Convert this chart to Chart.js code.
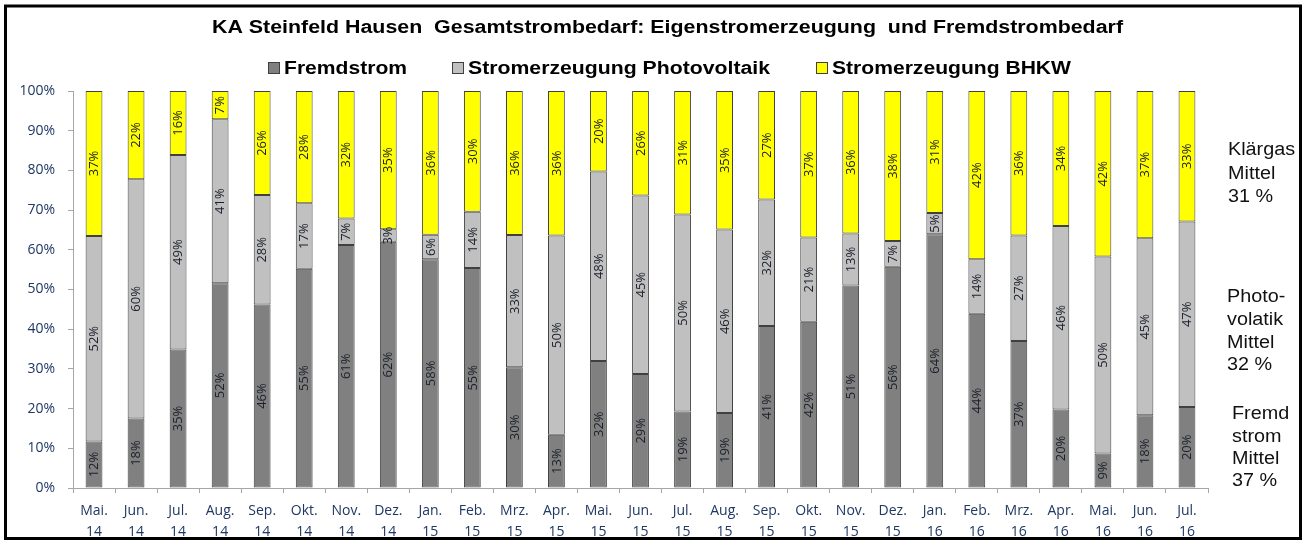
<!DOCTYPE html>
<html>
<head>
<meta charset="utf-8">
<script src="https://cdn.jsdelivr.net/npm/chart.js@4.4.1/dist/chart.umd.min.js"></script>
<style>
  html, body { margin: 0; padding: 0; background: #ffffff; }
  #wrap { width: 1304px; height: 541px; position: relative; }
</style>
</head>
<body>
<div id="wrap"><canvas id="c" width="1304" height="541"></canvas></div>
<script>
// ---- data ----
const months = ['Mai.','Jun.','Jul.','Aug.','Sep.','Okt.','Nov.','Dez.','Jan.','Feb.','Mrz.','Apr.','Mai.','Jun.','Jul.','Aug.','Sep.','Okt.','Nov.','Dez.','Jan.','Feb.','Mrz.','Apr.','Mai.','Jun.','Jul.'];
const years  = ['14','14','14','14','14','14','14','14','15','15','15','15','15','15','15','15','15','15','15','15','16','16','16','16','16','16','16'];
const fremdstrom   = [11.7,17.5,34.9,51.6,46.2,55.2,61.2,62.0,57.6,55.4,30.4,13.4,32.0,28.7,19.3,18.9,40.8,41.9,51.0,55.7,63.9,43.9,37.0,19.8,8.7,18.3,20.4];
const photovoltaik = [51.8,60.3,49.0,41.3,27.6,16.5,6.7,3.2,6.2,14.2,33.3,50.2,47.7,45.0,49.6,46.2,31.9,21.2,13.1,6.5,5.4,13.7,26.6,46.2,49.6,44.6,46.7];
const bhkw         = [36.5,22.2,16.1,7.1,26.2,28.3,32.1,34.8,36.2,30.4,36.3,36.4,20.3,26.3,31.1,34.9,27.3,36.9,35.9,37.8,30.7,42.4,36.4,34.0,41.7,37.1,32.9];
const yTicks = [0,10,20,30,40,50,60,70,80,90,100];
const seriesNames = ['Fremdstrom','Stromerzeugung Photovoltaik','Stromerzeugung BHKW'];
const titleText = 'KA Steinfeld Hausen  Gesamtstrombedarf: Eigenstromerzeugung  und Fremdstrombedarf';
const notes = [
  {x:1228, lines:['Klärgas','Mittel','31 %'], base:[155,178.5,201.5]},
  {x:1227, lines:['Photo-','volatik','Mittel','32 %'], base:[302,325,347.5,369.5]},
  {x:1232, lines:['Fremd','strom','Mittel','37 %'], base:[418.5,441.5,464,486]}
];

const labels = months.map((m,i) => [m, years[i]]);
const colors = ['#808080','#c0c0c0','#ffff00'];
const seriesData = [fremdstrom, photovoltaik, bhkw];

function drawFit(ctx, text, x, baseline, font, width, align) {
  ctx.save();
  ctx.font = font;
  const w = ctx.measureText(text).width;
  const sx = width ? width / w : 1;
  ctx.textAlign = 'left';
  ctx.textBaseline = 'alphabetic';
  let left = x;
  if (align === 'center') left = x - (w * sx) / 2;
  ctx.translate(left, baseline);
  ctx.scale(sx, 1);
  ctx.fillText(text, 0, 0);
  ctx.restore();
}

const decorPlugin = {
  id: 'decor',
  afterDatasetsDraw(chart) {
    const ctx = chart.ctx;
    // segment value labels
    ctx.save();
    ctx.font = '13px "Open Sans"';
    ctx.fillStyle = '#1a1f2a';
    ctx.textAlign = 'center';
    ctx.textBaseline = 'middle';
    chart.data.datasets.forEach((ds, di) => {
      const meta = chart.getDatasetMeta(di);
      meta.data.forEach((el, i) => {
        const p = el.getProps(['x','y','base'], true);
        const cy = (p.y + p.base) / 2;
        ctx.save();
        ctx.translate(p.x + 0.5, cy);
        ctx.rotate(-Math.PI / 2);
        ctx.fillText(Math.round(ds.data[i]) + '%', 0, 0);
        ctx.restore();
      });
    });
    ctx.restore();
  },
  afterDraw(chart) {
    const ctx = chart.ctx;
    ctx.save();
    ctx.fillStyle = '#000000';
    // title
    drawFit(ctx, titleText, 667.5, 33, 'bold 18px "Liberation Sans"', 911, 'center');
    // legend
    const items = [
      {box:268, tx:284, w:123},
      {box:452, tx:468, w:302},
      {box:816, tx:832, w:239}
    ];
    items.forEach((it, k) => {
      ctx.fillStyle = colors[k];
      ctx.fillRect(it.box + 0.5, 62.5, 11, 11);
      ctx.strokeStyle = '#404040';
      ctx.lineWidth = 1;
      ctx.strokeRect(it.box + 0.5, 62.5, 11, 11);
      ctx.fillStyle = '#000000';
      drawFit(ctx, seriesNames[k], it.tx, 73.5, 'bold 18px "Liberation Sans"', it.w, 'left');
    });
    // annotations
    ctx.fillStyle = '#111111';
    notes.forEach(n => {
      n.lines.forEach((t, j) => {
        ctx.save();
        ctx.font = '18px "Liberation Sans"';
        ctx.translate(n.x, n.base[j]);
        ctx.scale(1.1, 1);
        ctx.fillText(t, 0, 0);
        ctx.restore();
      });
    });
    // outer frame
    ctx.strokeStyle = '#000000';
    ctx.lineWidth = 3;
    ctx.strokeRect(5.5, 6, 1295, 532.5);
    ctx.restore();
  }
};

new Chart(document.getElementById('c'), {
  type: 'bar',
  data: {
    labels: labels,
    datasets: seriesData.map((d, k) => ({
      label: seriesNames[k],
      data: d,
      backgroundColor: colors[k],
      borderColor: '#404040',
      borderWidth: 1,
      borderSkipped: false,
      barPercentage: 0.4,
      categoryPercentage: 1.0
    }))
  },
  options: {
    responsive: false,
    animation: false,
    devicePixelRatio: 1,
    layout: { padding: { top: 91, right: 96, bottom: 0, left: 0 } },
    plugins: {
      legend: { display: false },
      title: { display: false },
      tooltip: { enabled: false }
    },
    scales: {
      x: {
        stacked: true,
        offset: true,
        grid: { display: true, drawOnChartArea: false, drawTicks: true, tickLength: 5, color: '#a6a6a6', offset: true },
        border: { display: true, color: '#a6a6a6', width: 1 },
        ticks: {
          color: '#1f3864',
          font: { family: '"Open Sans"', size: 14, lineHeight: 1.5 },
          padding: 8,
          maxRotation: 0,
          autoSkip: false
        },
        afterFit(scale) { scale.height = 53; }
      },
      y: {
        stacked: true,
        min: 0,
        max: 100,
        afterBuildTicks(scale) { scale.ticks = yTicks.map(v => ({ value: v })); },
        grid: { display: true, drawOnChartArea: false, drawTicks: true, tickLength: 5, color: '#a6a6a6' },
        border: { display: true, color: '#a6a6a6', width: 1 },
        ticks: {
          color: '#1f3864',
          font: { family: '"Open Sans"', size: 14 },
          padding: 13,
          callback: v => v + '%'
        },
        afterFit(scale) { scale.width = 73; }
      }
    }
  },
  plugins: [decorPlugin]
});
</script>
</body>
</html>
